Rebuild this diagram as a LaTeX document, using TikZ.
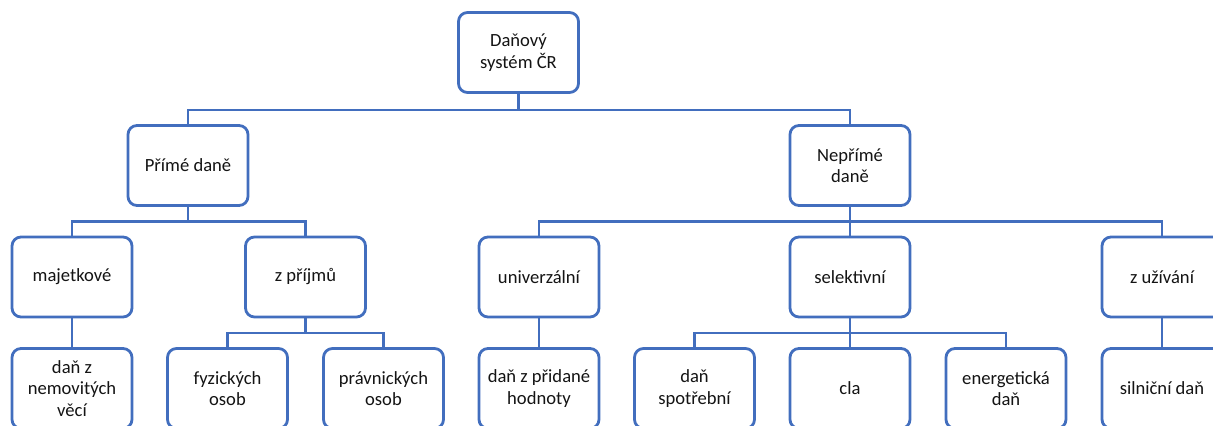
\documentclass[tikz,border=0pt]{standalone}
\usepackage{fontspec}
\setmainfont{Carlito}
\definecolor{boxblue}{RGB}{66,110,190}
\definecolor{txt}{RGB}{20,20,20}
\begin{document}
\begin{tikzpicture}[x=0.5pt,y=-0.5pt,
  box/.style={draw=boxblue, line width=1.4pt, rounded corners=4.5pt, fill=white,
    minimum width=60pt, minimum height=40pt, align=center, inner sep=1pt, text=txt,
    font=\fontsize{9.3pt}{10.7pt}\selectfont},
  conn/.style={draw=boxblue, line width=1.4pt}]
\useasboundingbox (0,0) rectangle (1213,426);
\clip (0,0) rectangle (1213,426);
% bus levels
\coordinate (bus1) at (0,110);
\coordinate (bus2) at (0,221.5);
\coordinate (bus3) at (0,333);
% nodes
\node[box] (root) at (518.5,52.5) {Daňový\\systém ČR};
\node[box] (prime) at (188,165.5) {Přímé daně};
\node[box] (neprime) at (850,165.5) {Nepřímé\\daně};
\node[box] (majet) at (72,277) {majetkové};
\node[box] (zprijmu) at (305.5,277) {z příjmů};
\node[box] (univ) at (539,277) {univerzální};
\node[box] (selekt) at (850,277) {selektivní};
\node[box] (zuziv) at (1162,277) {z užívání};
\node[box] (nemov) at (72,388.5) {daň z\\nemovitých\\věcí};
\node[box] (fyz) at (227.5,388.5) {fyzických\\osob};
\node[box] (prav) at (383.5,388.5) {právnických\\osob};
\node[box] (dph) at (539,388.5) {daň z přidané\\hodnoty};
\node[box] (spotr) at (694.5,388.5) {daň\\spotřební};
\node[box] (cla) at (850,388.5) {cla};
\node[box] (energ) at (1006,388.5) {energetická\\daň};
\node[box] (silnic) at (1162,388.5) {silniční daň};
% connectors
\path[conn] (root.south) -- (root.south |- bus1) -| (prime.north);
\path[conn] (root.south) -- (root.south |- bus1) -| (neprime.north);
\path[conn] (prime.south) -- (prime.south |- bus2) -| (majet.north);
\path[conn] (prime.south) -- (prime.south |- bus2) -| (zprijmu.north);
\path[conn] (neprime.south) -- (neprime.south |- bus2) -| (univ.north);
\path[conn] (neprime.south) -- (selekt.north);
\path[conn] (neprime.south) -- (neprime.south |- bus2) -| (zuziv.north);
\path[conn] (majet.south) -- (nemov.north);
\path[conn] (zprijmu.south) -- (zprijmu.south |- bus3) -| (fyz.north);
\path[conn] (zprijmu.south) -- (zprijmu.south |- bus3) -| (prav.north);
\path[conn] (univ.south) -- (dph.north);
\path[conn] (selekt.south) -- (selekt.south |- bus3) -| (spotr.north);
\path[conn] (selekt.south) -- (cla.north);
\path[conn] (selekt.south) -- (selekt.south |- bus3) -| (energ.north);
\path[conn] (zuziv.south) -- (silnic.north);
\end{tikzpicture}
\end{document}
